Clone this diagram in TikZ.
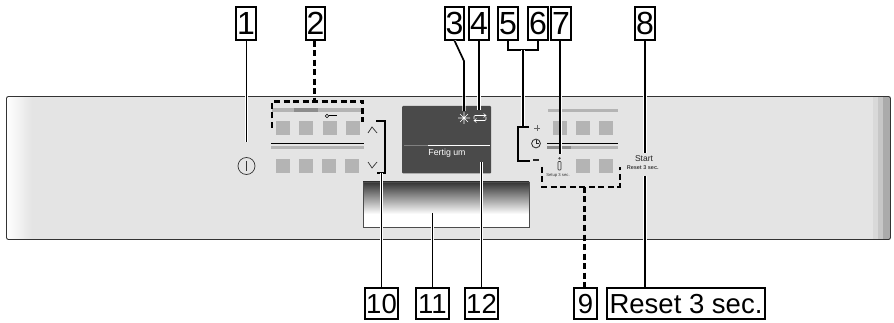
\documentclass[tikz,border=0pt]{standalone}
\usepackage{fontspec}
\setmainfont{Liberation Sans}
\definecolor{panel}{HTML}{E4E4E4}
\definecolor{key}{HTML}{B4B4B4}
\definecolor{keydark}{HTML}{8C8C8C}
\definecolor{disp}{HTML}{4A4A4A}
\tikzset{
  x=1pt,y=-1pt,
  callout/.style={draw=black,fill=white,line width=1.4pt,inner sep=0pt,minimum height=33pt,text height=23pt,text depth=0pt,font=\fontsize{32}{32}\selectfont},
  callouttwo/.style={draw=black,fill=white,line width=1.4pt,inner sep=0pt,minimum height=31pt,text height=20pt,text depth=0pt,font=\fontsize{27.5}{28}\selectfont},
  leader/.style={line width=1.7pt,black,preaction={draw=white,line width=3.2pt}},
  plainleader/.style={line width=1.7pt,black},
  dashleader/.style={line width=2.1pt,black,dash pattern=on 6pt off 3.5pt},
  keypad/.style={fill=key,draw=none},
  glyph/.style={line width=.7pt,black!80},
  glyphw/.style={line width=.6pt,white},
}
\newcommand{\keyat}[2]{\fill[keypad] (#1,#2) rectangle ++(14,14);}
\begin{document}
\begin{tikzpicture}
\useasboundingbox (0,0) rectangle (894,323);
% panel
\begin{scope}
\clip[rounded corners=2pt] (6.5,96.5) rectangle (890.5,239.5);
\fill[panel] (6.5,96.5) rectangle (890.5,239.5);
\shade[left color=white,right color=panel] (6.5,96.5) rectangle (32,239.5);
\fill[black!15] (873,96.5) rectangle (878,239.5);
\fill[black!22] (878,96.5) rectangle (883,239.5);
\fill[black!33] (883,96.5) rectangle (890.5,239.5);
\end{scope}
\draw[line width=.9pt,black!80,rounded corners=2pt] (6.5,96.5) rectangle (890.5,239.5);
% display
\fill[disp,rounded corners=1pt] (402,106) rectangle (491,173.5);
\draw[line width=1pt,black!50!white] (404,146) -- (428,146);
\draw[line width=1pt,white] (428,146) -- (490,146);
\node[white,font=\fontsize{8.8}{9}\selectfont,inner sep=0pt] (fertig) at (447,153) {Fertig um};
% handle
\shade[top color=black!80,bottom color=white] (363,182) rectangle (529,214);
\fill[white] (363,214) rectangle (529,227);
\draw[line width=.9pt,black!70] (363,182) rectangle (529,227);
% left keys
\fill[key] (272,108.5) rectangle (364,112);
\fill[keydark] (294,108.5) rectangle (318,112);
\draw[line width=.8pt,black] (271,143.7) -- (364,143.7);
\fill[key] (271,146) rectangle (364,149);
\keyat{276}{121}\keyat{299}{121}\keyat{323}{121}\keyat{346}{121}
\keyat{276}{159}\keyat{299}{159}\keyat{322}{159}\keyat{345}{159}
% key symbol
\draw[line width=.6pt] (327,116) circle (1.8);
\draw[line width=1pt] (329,116) -- (337,116);
% chevrons
\draw[glyph] (368,133) -- (372,127) -- (377,133);
\draw[glyph] (368,162) -- (372,168) -- (377,162);
% power
\draw[line width=.7pt,black!80] (246.5,166) circle (8.5);
\draw[line width=.7pt,black!80] (246.5,161) -- (246.5,171);
% right keys
\fill[key] (548,109) rectangle (618,112);
\draw[line width=.8pt,black] (547,143.5) -- (618,143.5);
\fill[key] (547,146) rectangle (618,149);
\fill[keydark] (547,146) rectangle (571,149);
\keyat{553}{121}\keyat{576}{121}\keyat{599}{121}
\keyat{576}{159}\keyat{599}{159}
% plus, clock, minus
\draw[line width=.8pt,black!60] (534,128) -- (540,128) (537,125) -- (537,131);
\draw[line width=.8pt,black!85] (536,143.5) circle (4.4);
\draw[line width=.6pt,black!85] (536,140.5) -- (536,143.5) -- (539,143.5);
\draw[line width=1.1pt,black!85] (533,160) -- (539,160);
% info symbol
\fill[black!70] (559.5,158.3) circle (1.3);
\draw[line width=.6pt,black!80,rounded corners=.8pt] (558,161.5) rectangle (561,170);
\node[font=\fontsize{4.2}{5}\selectfont,inner sep=0pt,black!80] (setup) at (558,175) {Setup 3 sec.};
\node[font=\fontsize{8.5}{9}\selectfont,inner sep=0pt,black!85] (start) at (644,159) {Start};
\node[font=\fontsize{5.5}{7}\selectfont\bfseries,inner sep=0pt,black!75] (reset) at (642.7,167.8) {Reset 3 sec.};
% frost symbol
\draw[glyphw] (458,118) -- (470,118) (464,112) -- (464,124) (460,114) -- (468,122) (460,122) -- (468,114);
% cycle symbol
\draw[glyphw,rounded corners=1pt] (474,119) -- (474,115.5) -- (486,115.5);
\draw[glyphw] (483.5,113.5) -- (486,115.5) -- (483.5,117.5);
\draw[glyphw,rounded corners=1pt] (486,117) -- (486,120.5) -- (474,120.5);
\draw[glyphw] (476.5,118.5) -- (474,120.5) -- (476.5,122.5);
% callouts
\node[callout,minimum width=20pt] (n1) at (246,23.5) {1};
\node[callout,minimum width=19pt] (n2) at (315.5,23.5) {2};
\node[callout,minimum width=19pt] (n3) at (454.5,23.5) {3};
\node[callout,minimum width=20pt] (n4) at (479,23.5) {4};
\node[callout,minimum width=20pt] (n5) at (508,23.5) {5};
\node[callout,minimum width=20pt] (n6) at (538,23.5) {6};
\node[callout,minimum width=20pt] (n7) at (561,23.5) {7};
\node[callout,minimum width=20pt] (n8) at (645,23.5) {8};
\node[callouttwo,minimum width=23pt] (n9) at (585.5,303.5) {9};
\node[callouttwo,minimum width=33pt] (n10) at (381.5,303.5) {10};
\node[callouttwo,minimum width=33pt] (n11) at (432.5,303.5) {11};
\node[callouttwo,minimum width=33pt] (n12) at (481.5,303.5) {12};
\node[callouttwo,minimum width=158pt] (n13) at (686,303.5) {Reset 3 sec.};
% connector ends
\coordinate (e1) at (246.5,142);
\coordinate (e2) at (314.5,100);
\coordinate (k3) at (464,61);
\coordinate (e3) at (464,111);
\coordinate (e4) at (479,110);
\coordinate (j56) at (523,50);
\coordinate (t56) at (523,127);
\coordinate (e7) at (560.3,154);
\coordinate (e8) at (645,153);
\coordinate (e8b) at (645,176);
\coordinate (e9) at (584.5,187);
\coordinate (e10) at (381.5,173);
\coordinate (e11) at (432.5,213);
\coordinate (e12) at (481.5,162);
% connectors
\draw[leader] (n1.south -| e1) -- (e1);
\draw[dashleader] (n2.south -| e2) -- (e2);
\draw[leader,line join=round] (n3.south) -- (k3) -- (e3);
\draw[leader] (n4.south) -- (e4);
\draw[plainleader] (n5.south) -- (n5.south |- j56) -- (n6.south |- j56) -- (n6.south);
\draw[leader] (j56) -- (t56);
\draw[plainleader] (529,127) -- (518,127) -- (518,161) -- (530,161);
\draw[leader] (n7.south -| e7) -- (e7);
\draw[leader] (n8.south) -- (e8);
\draw[leader] (e8b) -- (n13.north -| e8b);
\draw[dashleader] (e9) -- (n9.north -| e9);
\draw[plainleader] (376,121) -- (385,121) -- (385,173) -- (377,173);
\draw[leader] (e10) -- (n10.north);
\draw[leader] (e11) -- (n11.north);
\draw[leader] (e12) -- (n12.north);
% dashed brackets
\draw[dashleader] (272,128) -- (272,101.5) -- (362.5,101.5) -- (362.5,122);
\draw[dashleader] (542,167) -- (542,186.7) -- (620,186.7) -- (620,167);
\end{tikzpicture}
\end{document}
